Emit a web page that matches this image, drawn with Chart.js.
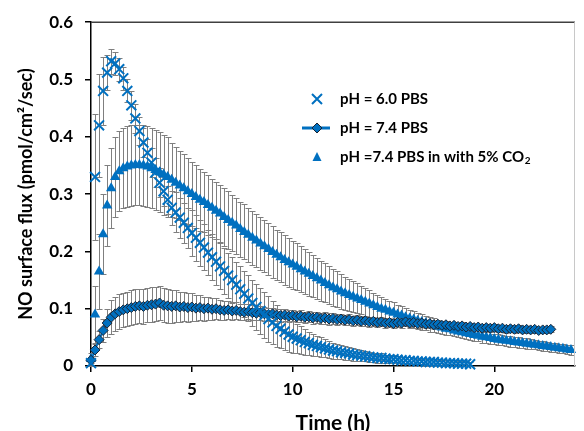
<!DOCTYPE html>
<html><head><meta charset="utf-8">
<script src="https://cdn.jsdelivr.net/npm/chart.js@4.4.1/dist/chart.umd.min.js"></script>
<style>html,body{margin:0;padding:0;background:#fff}#wrap{width:584px;height:431px;position:relative}</style>
</head><body><div id="wrap"><canvas id="c" width="584" height="431"></canvas></div>
<script>
// ---------- data ----------
const SERIES_LABELS = ['pH = 6.0 PBS', 'pH = 7.4 PBS', 'pH =7.4 PBS in with 5% CO\u2082'];
const X_TITLE = 'Time (h)';
const Y_TITLE = 'NO surface flux (pmol/cm\u00B2/sec)';
const X_TICKS = [0, 5, 10, 15, 20];
const Y_TICKS = [0, 0.1, 0.2, 0.3, 0.4, 0.5, 0.6];
const SAMPLE_STEP_H = 0.2; // sampling interval (hours)

const ph60Flux = [0.005,0.33,0.42,0.48,0.512,0.532,0.528,0.518,0.502,0.48,
0.455,0.432,0.41,0.39,0.372,0.355,0.338,0.32,0.305,0.29,
0.276,0.268,0.259,0.25,0.241,0.232,0.224,0.215,0.207,0.198,
0.19,0.182,0.174,0.166,0.158,0.15,0.142,0.134,0.126,0.118,
0.11,0.103,0.096,0.089,0.082,0.076,0.07,0.065,0.06,0.055,
0.051,0.048,0.045,0.042,0.04,0.037,0.035,0.033,0.031,0.029,
0.027,0.026,0.024,0.023,0.022,0.02,0.019,0.018,0.017,0.016,
0.015,0.014,0.014,0.013,0.012,0.012,0.011,0.01,0.01,0.009,
0.009,0.008,0.008,0.007,0.007,0.007,0.006,0.006,0.005,0.005,
0.005,0.004,0.004,0.004,0.003];
const ph60Err = [0.005,0.11,0.09,0.06,0.03,0.022,0.02,0.02,0.02,0.02,
0.025,0.025,0.025,0.025,0.025,0.025,0.025,0.025,0.025,0.025,
0.03,0.035,0.035,0.035,0.035,0.04,0.04,0.04,0.04,0.04,
0.04,0.04,0.04,0.04,0.04,0.04,0.04,0.04,0.04,0.04,
0.04,0.04,0.04,0.04,0.04,0.038,0.036,0.034,0.032,0.03,
0.028,0.026,0.024,0.022,0.02,0.019,0.018,0.017,0.016,0.015,
0.014,0.013,0.012,0.012,0.011,0.011,0.01,0.01,0.009,0.009,
0.008,0.008,0.008,0.007,0.007,0.007,0.006,0.006,0.006,0.006,
0.005,0.005,0.005,0.005,0.005,0.005,0.005,0.005,0.005,0.005,
0.005,0.004,0.004,0.004,0.004];

const ph74Flux = [0.01,0.028,0.046,0.062,0.075,0.085,0.091,0.095,0.098,0.1,
0.102,0.104,0.105,0.104,0.106,0.107,0.108,0.11,0.106,0.105,
0.104,0.105,0.103,0.104,0.102,0.103,0.101,0.102,0.1,0.101,
0.099,0.1,0.098,0.097,0.098,0.096,0.097,0.095,0.094,0.095,
0.093,0.092,0.093,0.091,0.09,0.091,0.089,0.088,0.089,0.087,
0.088,0.086,0.087,0.085,0.086,0.084,0.085,0.083,0.084,0.082,
0.083,0.081,0.082,0.08,0.081,0.079,0.08,0.078,0.079,0.077,
0.078,0.076,0.077,0.075,0.076,0.074,0.076,0.075,0.077,0.075,
0.076,0.074,0.075,0.073,0.074,0.072,0.073,0.071,0.072,0.07,
0.071,0.069,0.07,0.068,0.069,0.067,0.068,0.066,0.067,0.066,
0.067,0.065,0.066,0.064,0.065,0.064,0.065,0.063,0.064,0.063,
0.064,0.062,0.063,0.063,0.064];
const ph74Err = [0.005,0.01,0.015,0.02,0.025,0.03,0.03,0.03,0.03,0.03,
0.03,0.03,0.03,0.03,0.03,0.03,0.03,0.03,0.03,0.03,
0.029,0.028,0.027,0.026,0.025,0.024,0.023,0.022,0.021,0.02,
0.019,0.018,0.017,0.016,0.016,0.015,0.015,0.014,0.014,0.013,
0.013,0.012,0.012,0.012,0.012,0.011,0.011,0.011,0.011,0.011,
0.01,0.01,0.01,0.01,0.01,0.01,0.01,0.01,0.01,0.01,
0.009,0.009,0.009,0.009,0.009,0.009,0.009,0.009,0.009,0.009,
0.008,0.008,0.008,0.008,0.008,0.008,0.008,0.008,0.008,0.008,
0.007,0.007,0.007,0.007,0.007,0.007,0.007,0.007,0.007,0.007,
0.006,0.006,0.006,0.006,0.006,0.006,0.006,0.006,0.006,0.006,
0.006,0.006,0.006,0.006,0.006,0.006,0.006,0.006,0.006,0.006,
0.005,0.005,0.005,0.005,0.005];

const co2Flux = [0.012,0.09,0.165,0.23,0.28,0.31,0.33,0.34,0.345,0.348,
0.35,0.351,0.351,0.35,0.348,0.345,0.342,0.338,0.334,0.33,
0.325,0.32,0.315,0.31,0.305,0.3,0.295,0.29,0.286,0.281,
0.276,0.271,0.266,0.26,0.255,0.25,0.245,0.239,0.234,0.229,
0.224,0.219,0.214,0.209,0.204,0.199,0.194,0.19,0.185,0.181,
0.177,0.173,0.169,0.165,0.161,0.157,0.153,0.149,0.145,0.141,
0.137,0.134,0.13,0.127,0.124,0.121,0.118,0.115,0.112,0.109,
0.106,0.103,0.1,0.098,0.095,0.093,0.09,0.088,0.085,0.083,
0.081,0.079,0.077,0.075,0.073,0.071,0.069,0.067,0.065,0.064,
0.062,0.06,0.059,0.057,0.056,0.054,0.053,0.051,0.05,0.049,
0.047,0.046,0.045,0.044,0.043,0.042,0.041,0.04,0.039,0.038,
0.037,0.036,0.035,0.034,0.033,0.032,0.031,0.03,0.029,0.028];
const co2Err = [0.01,0.05,0.065,0.07,0.07,0.07,0.07,0.07,0.07,0.07,
0.07,0.07,0.07,0.07,0.07,0.07,0.07,0.07,0.07,0.07,
0.065,0.062,0.06,0.06,0.058,0.056,0.055,0.054,0.053,0.052,
0.051,0.05,0.05,0.05,0.05,0.049,0.049,0.048,0.048,0.047,
0.047,0.046,0.046,0.045,0.045,0.045,0.044,0.044,0.043,0.043,
0.042,0.041,0.04,0.039,0.038,0.037,0.036,0.035,0.034,0.033,
0.032,0.031,0.03,0.029,0.028,0.027,0.026,0.025,0.024,0.023,
0.022,0.021,0.02,0.019,0.018,0.018,0.017,0.016,0.016,0.015,
0.015,0.014,0.014,0.013,0.013,0.012,0.012,0.011,0.011,0.01,
0.01,0.01,0.01,0.01,0.01,0.01,0.01,0.01,0.01,0.01,
0.009,0.009,0.009,0.009,0.009,0.009,0.009,0.009,0.009,0.009,
0.008,0.008,0.008,0.008,0.008,0.008,0.008,0.008,0.008,0.008];

// ---------- helpers ----------
const BLUE = '#0070C0';
const FONT = 'Lato';
const toPoints = (vals) => vals.map((v, i) => ({ x: +(i * SAMPLE_STEP_H).toFixed(2), y: v }));

const errorBars = {
  id: 'errorBars',
  beforeDatasetsDraw(chart) {
    const { ctx } = chart; const xs = chart.scales.x, ys = chart.scales.y;
    ctx.save();
    ctx.strokeStyle = '#7f7f7f'; ctx.lineWidth = 1;
    chart.data.datasets.forEach(ds => {
      if (!ds.errors) return;
      ds.data.forEach((p, i) => {
        const e = ds.errors[i];
        const px = Math.round(xs.getPixelForValue(p.x)) + 0.5;
        const yt = Math.round(ys.getPixelForValue(p.y + e)) + 0.5;
        const yb = Math.round(ys.getPixelForValue(Math.max(0, p.y - e))) + 0.5;
        ctx.beginPath();
        ctx.moveTo(px, yt); ctx.lineTo(px, yb);
        ctx.moveTo(px - 3, yt); ctx.lineTo(px + 3, yt);
        ctx.moveTo(px - 3, yb); ctx.lineTo(px + 3, yb);
        ctx.stroke();
      });
    });
    ctx.restore();
  }
};

const frameAndLegend = {
  id: 'frameAndLegend',
  afterDraw(chart) {
    const { ctx, chartArea: a } = chart;
    ctx.save();
    ctx.strokeStyle = '#404040'; ctx.lineWidth = 1.5;
    ctx.beginPath(); ctx.moveTo(a.left, a.top); ctx.lineTo(a.right, a.top); ctx.stroke();
    ctx.strokeStyle = '#c8c8c8'; ctx.lineWidth = 1;
    ctx.beginPath(); ctx.moveTo(a.right - 0.5, a.top); ctx.lineTo(a.right - 0.5, a.bottom); ctx.stroke();

    const rows = [99, 128, 157];
    const mx = 317, tx = 340;
    ctx.strokeStyle = BLUE; ctx.lineWidth = 2;
    ctx.beginPath();
    ctx.moveTo(mx - 5, rows[0] - 5); ctx.lineTo(mx + 5, rows[0] + 5);
    ctx.moveTo(mx + 5, rows[0] - 5); ctx.lineTo(mx - 5, rows[0] + 5);
    ctx.stroke();
    ctx.lineWidth = 3;
    ctx.beginPath(); ctx.moveTo(302, rows[1]); ctx.lineTo(330, rows[1]); ctx.stroke();
    ctx.fillStyle = BLUE; ctx.strokeStyle = '#1a2433'; ctx.lineWidth = 1;
    ctx.beginPath();
    ctx.moveTo(mx, rows[1] - 5); ctx.lineTo(mx + 5, rows[1]); ctx.lineTo(mx, rows[1] + 5); ctx.lineTo(mx - 5, rows[1]); ctx.closePath();
    ctx.fill(); ctx.stroke();
    ctx.fillStyle = BLUE;
    ctx.beginPath();
    ctx.moveTo(mx, rows[2] - 5); ctx.lineTo(mx + 4.5, rows[2] + 4); ctx.lineTo(mx - 4.5, rows[2] + 4); ctx.closePath();
    ctx.fill();

    ctx.fillStyle = '#000'; ctx.textBaseline = 'middle'; ctx.textAlign = 'left';
    SERIES_LABELS.forEach((lab, r) => {
      let x = tx;
      for (const ch of lab) {
        if (ch === '\u2082') {
          ctx.font = `bold 10px ${FONT}`;
          ctx.fillText('2', x + 0.5, rows[r] + 4);
          x += ctx.measureText('2').width;
        } else {
          ctx.font = `bold 15px ${FONT}`;
          ctx.fillText(ch, x, rows[r]);
          x += ctx.measureText(ch).width;
        }
      }
    });
    ctx.restore();
  }
};

new Chart(document.getElementById('c'), {
  type: 'scatter',
  data: {
    datasets: [
      { label: SERIES_LABELS[0], data: toPoints(ph60Flux), errors: ph60Err, showLine: false,
        pointStyle: 'crossRot', pointRadius: 7, pointBorderWidth: 2, pointBorderColor: BLUE, pointBackgroundColor: BLUE, order: 0, clip: false },
      { label: SERIES_LABELS[1], data: toPoints(ph74Flux), errors: ph74Err, showLine: true, borderColor: BLUE, borderWidth: 2,
        pointStyle: 'rectRot', pointRadius: 5, pointBorderWidth: 1, pointBorderColor: '#1a2433', pointBackgroundColor: BLUE, order: 1, clip: false },
      { label: SERIES_LABELS[2], data: toPoints(co2Flux), errors: co2Err, showLine: false,
        pointStyle: 'triangle', pointRadius: 6, pointBorderWidth: 0, pointBorderColor: BLUE, pointBackgroundColor: BLUE, order: 2, clip: false }
    ]
  },
  options: {
    responsive: false, animation: false, events: [],
    layout: { padding: { top: 21, right: 1, left: 0, bottom: 0 } },
    plugins: { legend: { display: false }, tooltip: { enabled: false } },
    scales: {
      x: {
        type: 'linear', min: 0, max: 24,
        afterFit(s) { s.height = 65; },
        afterBuildTicks(s) { s.ticks = X_TICKS.map(v => ({ value: v })); },
        ticks: { color: '#000', font: { family: FONT, size: 17, weight: 'bold' }, padding: 7, maxRotation: 0, autoSkip: false },
        grid: { display: true, drawOnChartArea: false, drawTicks: true, tickLength: 6, color: '#000', lineWidth: 1.5 },
        border: { display: true, color: '#000', width: 1.5 },
        title: { display: true, text: X_TITLE, color: '#000', font: { family: FONT, size: 21, weight: 'bold' }, padding: { top: 0, bottom: -5 } }
      },
      y: {
        type: 'linear', min: 0, max: 0.6,
        afterFit(s) { s.width = 91; },
        afterBuildTicks(s) { s.ticks = Y_TICKS.map(v => ({ value: v })); },
        ticks: { color: '#000', font: { family: FONT, size: 17, weight: 'bold' }, padding: 12, callback: v => String(+v.toFixed(1)) },
        grid: { display: true, drawOnChartArea: false, drawTicks: true, tickLength: 6, color: '#000', lineWidth: 1.5 },
        border: { display: true, color: '#000', width: 1.5 },
        title: { display: true, text: Y_TITLE, color: '#000', font: { family: FONT, size: 18, weight: 'bold' }, padding: { top: 15, bottom: 0 } }
      }
    }
  },
  plugins: [errorBars, frameAndLegend]
});
</script>
</body></html>
